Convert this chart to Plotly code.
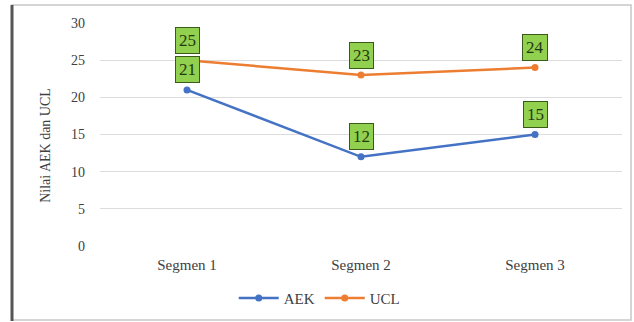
import plotly.graph_objects as go

segments = ["Segmen 1", "Segmen 2", "Segmen 3"]
aek = [21, 12, 15]
ucl = [25, 23, 24]
y_ticks = [0, 5, 10, 15, 20, 25, 30]

blue = "#4472C4"
orange = "#ED7D31"
label_fill = "#92D050"
font_family = "Liberation Serif"
text_color = "#404040"

fig = go.Figure()
fig.add_trace(go.Scatter(x=segments, y=aek, name="AEK", mode="lines+markers",
                         line=dict(color=blue, width=2.5),
                         marker=dict(color=blue, size=7)))
fig.add_trace(go.Scatter(x=segments, y=ucl, name="UCL", mode="lines+markers",
                         line=dict(color=orange, width=2.5),
                         marker=dict(color=orange, size=7)))

# value labels in green boxes above each point
annotations = []
for series in (aek, ucl):
    for seg, val in zip(segments, series):
        annotations.append(dict(
            x=seg, y=val, xref="x", yref="y", text=str(val), showarrow=False,
            yshift=20, bgcolor=label_fill, bordercolor="#3a5a1a", borderwidth=1,
            borderpad=3, font=dict(family=font_family, size=17, color="#1f3a0f")))

# rotated y-axis title
annotations.append(dict(
    x=-0.105, y=0.45, xref="paper", yref="paper", text="Nilai AEK dan UCL",
    textangle=-90, showarrow=False, xanchor="center", yanchor="middle",
    font=dict(family=font_family, size=14, color=text_color)))

L, R, T, B = 100, 12, 23, 76
W, H = 634, 322
pw, ph = W - L - R, H - T - B

def px_x(v):
    return (v - L) / pw

def px_y(v):
    return (H - B - v) / ph

shapes = [
    dict(type="rect", xref="paper", yref="paper",
         x0=px_x(12), x1=px_x(631), y0=px_y(320), y1=px_y(5),
         line=dict(color="#c8c8c8", width=1.5)),
    dict(type="line", xref="paper", yref="paper",
         x0=px_x(12), x1=px_x(12), y0=px_y(321), y1=px_y(5),
         line=dict(color="#555555", width=3)),
]

fig.update_layout(
    width=W, height=H,
    margin=dict(l=L, r=R, t=T, b=B, autoexpand=False),
    paper_bgcolor="white", plot_bgcolor="white",
    font=dict(family=font_family, size=14, color=text_color),
    showlegend=True,
    legend=dict(orientation="h", x=0.42, y=-0.16, xanchor="center", yanchor="top",
                bgcolor="rgba(0,0,0,0)",
                font=dict(family=font_family, size=15, color=text_color),
                itemwidth=40, tracegroupgap=0),
    annotations=annotations,
    shapes=shapes,
)
fig.update_xaxes(range=[-0.5, 2.5], showgrid=False, showline=False, zeroline=False,
                 ticks="", tickfont=dict(family=font_family, size=15, color=text_color),
                 ticklabelstandoff=8, automargin=False)
fig.update_yaxes(range=[0, 30], tickvals=y_ticks, showgrid=True,
                 gridcolor="#dcdcdc", gridwidth=1, zeroline=False, showline=False,
                 ticks="", tickfont=dict(family=font_family, size=14, color=text_color),
                 ticklabelstandoff=14, automargin=False)

fig.write_html("out.html")
